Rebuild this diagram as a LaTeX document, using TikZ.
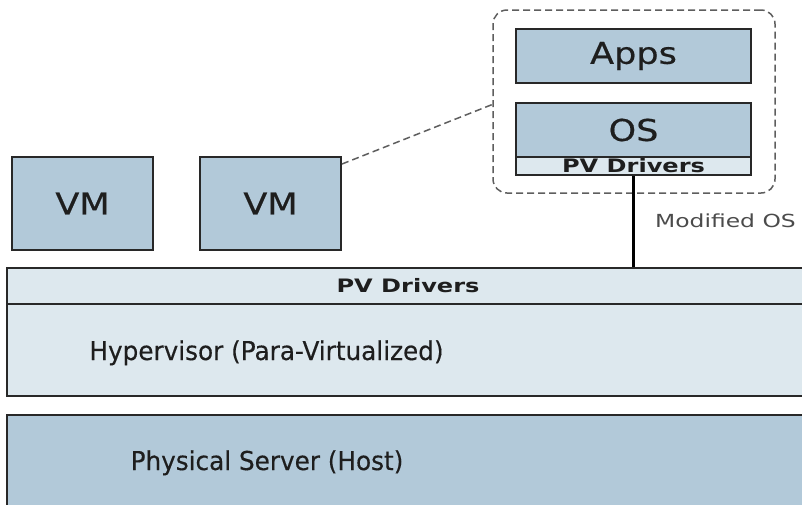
\documentclass[tikz,border=0pt]{standalone}
\usepackage{fontspec}
\setmainfont{DejaVu Sans}
\newfontfamily\widefont[FakeStretch=1.3]{DejaVu Sans}
\newfontfamily\boxfont[FakeStretch=1.17, FakeBold=0.5]{DejaVu Sans}
\newfontfamily\layerfont[FakeStretch=0.95, FakeBold=0.3]{DejaVu Sans}
\usepackage{xcolor}
\usepackage{tikz}

\definecolor{vmblue}{RGB}{178,201,217}
\definecolor{layerblue}{RGB}{221,232,238}
\definecolor{edgegray}{RGB}{40,40,40}
\definecolor{textgray}{RGB}{30,30,30}

\begin{document}
\begin{tikzpicture}[x=1pt, y=-1pt,
    box/.style={draw=edgegray, line width=2pt, fill=vmblue, inner sep=0pt, text=textgray},
    layer/.style={draw=edgegray, line width=2pt, fill=layerblue, inner sep=0pt, text=textgray},
    bigtext/.style={font=\boxfont\fontsize{30}{34}\selectfont},
    layertext/.style={font=\layerfont\fontsize{26}{30}\selectfont, text=textgray, anchor=base},
    smalltext/.style={font=\widefont\bfseries\fontsize{18.5}{20}\selectfont}]
    \useasboundingbox (0,0) rectangle (802,504);

    % The two plain virtual machines
    \foreach \x/\name in {82.5/vma, 270.5/vmb} {
        \node[box, bigtext, minimum width=141pt, minimum height=93pt] (\name) at (\x,203.5) {VM};
    }

    % Host layers (they run past the right edge)
    \node[layer, minimum width=813pt, minimum height=36pt] (pvbar) at (413.5,286) {};
    \node[layer, minimum width=813pt, minimum height=92pt] (hyper) at (413.5,350) {};
    \node[box, minimum width=813pt, minimum height=110pt] (phys) at (413.5,470) {};
    \node[smalltext, text=textgray, anchor=base] (pvlabel) at (408,292) {PV Drivers};
    \node[layertext] (hyperlabel) at (266.5,360) {Hypervisor (Para-Virtualized)};
    \node[layertext] (physlabel) at (267,470) {Physical Server (Host)};

    % Zoomed guest
    \node[draw=edgegray!75, line width=1.5pt, dash pattern=on 7pt off 4pt, rounded corners=14pt,
          minimum width=282pt, minimum height=183pt] (guest) at (634,101.5) {};
    \node[box, bigtext, minimum width=235pt, minimum height=54pt] (apps) at (633.5,56) {Apps};
    \node[box, bigtext, minimum width=235pt, minimum height=54pt] (os) at (633.5,130) {OS};
    \node[layer, smalltext, minimum width=235pt, minimum height=18pt] (osdrv) at (633.5,166) {PV Drivers};

    % Connectors
    \draw[edgegray!75, line width=1.5pt, dash pattern=on 7pt off 4pt] ([yshift=-8pt]vmb.north east) -- ([yshift=-3pt]guest.west);
    \draw[black, line width=3pt] (osdrv.south) -- (osdrv.south |- pvbar.north);
    \node[smalltext, font=\widefont\fontsize{18}{20}\selectfont, text=textgray!80, anchor=base west, inner sep=0pt] (modlabel) at (655,227) {Modified OS};

\end{tikzpicture}
\end{document}
